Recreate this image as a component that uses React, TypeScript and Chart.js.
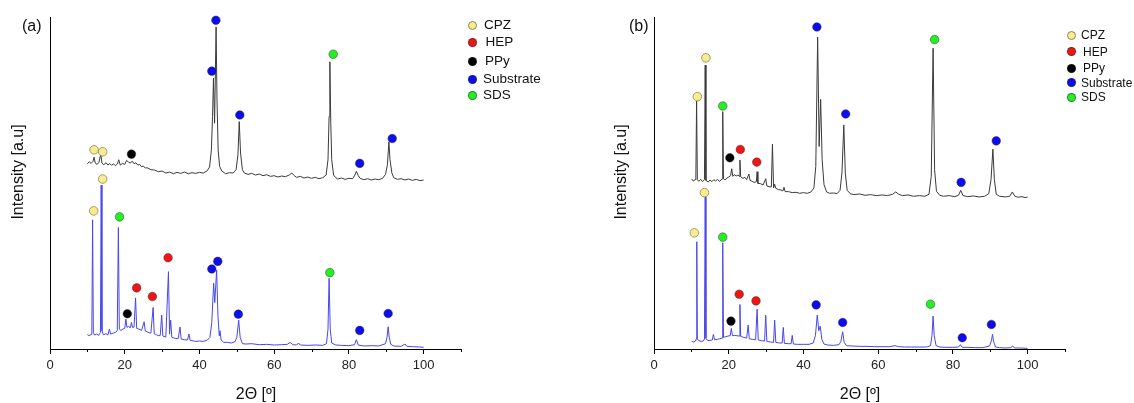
import React, { useEffect, useRef } from 'react';
import { Chart, registerables } from 'chart.js';

Chart.register(...registerables);

type P = [number, number];

const FONT = "'Liberation Sans', Arial, Helvetica, sans-serif";

// axis ticks
const xTicks = [0, 20, 40, 60, 80, 100];
const xMinorTicks = [10, 30, 50, 70, 90, 110];

// marker categories
const markerNames = ['CPZ', 'HEP', 'PPy', 'Substrate', 'SDS'];
const markerColors = ['#f8ec8e', '#f01414', '#000000', '#0c0cf0', '#22f022'];

// ---------- panel (a) ----------
const aTop: P[] = [
  [10, 55.8], [10.5, 56.4], [11, 55.9], [11.5, 56.5], [11.8, 57.8], [12.1, 56.0], [12.6, 55.6], [13.1, 56.2],
  [13.6, 58.8], [13.9, 56.0], [14.4, 55.5], [15, 56.1], [15.5, 55.4], [16, 55.9], [16.5, 55.3], [17, 55.8],
  [17.5, 55.2], [18, 55.7], [18.4, 57.0], [18.8, 55.4], [19.4, 55.9], [20, 55.6], [20.5, 56.8], [21, 56.3],
  [21.5, 56.0], [22, 56.6], [22.5, 55.8], [23, 56.1], [23.5, 55.4], [24, 55.6], [24.5, 54.9], [25, 55.1],
  [25.5, 54.5], [26, 54.6], [27, 54.0], [28, 53.9], [29, 53.4], [30, 53.6], [31, 53.0], [32, 53.3],
  [33, 52.8], [34, 53.2], [35, 52.9], [36, 53.3], [37, 52.8], [38, 53.1], [39, 52.9], [40, 53.2],
  [41, 53.0], [42, 53.6], [42.7, 54.8], [43.2, 60], [43.5, 70], [43.75, 81.6], [44.05, 68], [44.45, 97.0],
  [44.7, 75], [45.0, 60], [45.4, 55], [46, 53.6], [47, 52.8], [48, 53.1], [49, 53.0], [49.8, 54],
  [50.3, 58.5], [50.65, 68.5], [51.0, 59], [51.5, 54], [52, 53], [53, 52.6], [54, 52.9], [55, 52.4],
  [56, 52.7], [57, 52.2], [58, 52.5], [59, 52.0], [60, 52.2], [61, 51.8], [62, 52.1], [63, 51.9],
  [64, 52.4], [64.7, 53.0], [65.4, 52.2], [66, 51.7], [67, 52.0], [68, 51.5], [69, 51.8], [70, 51.4],
  [71, 51.7], [72, 51.3], [73, 51.6], [73.9, 52.4], [74.4, 57], [74.7, 70], [74.9, 86.5], [75.15, 68],
  [75.4, 57], [75.9, 52.4], [76.5, 51.6], [77, 51.2], [78, 51.5], [79, 51.1], [80, 51.4], [81, 51.3],
  [81.6, 52.4], [82, 53.5], [82.5, 52.2], [83, 51.4], [84, 51.0], [85, 51.3], [86, 50.9], [87, 51.2],
  [88, 51.0], [89, 51.4], [89.8, 52.6], [90.3, 55.5], [90.7, 62.4], [91.0, 57], [91.5, 53], [92, 51.6],
  [93, 51.1], [94, 51.3], [95, 50.9], [96, 51.2], [97, 50.8], [98, 51.1], [99, 50.7], [100, 50.9],
];

const aBottom: P[] = [
  [10, 4.3], [10.5, 4.0], [11, 4.4], [11.2, 5], [11.4, 38.9], [11.6, 5], [11.9, 4.2], [12.5, 4.5],
  [13, 4.1], [13.5, 5], [13.7, 49.4], [13.9, 5.5], [14.3, 4.3], [15, 4.6], [15.5, 4.2], [15.9, 6.0],
  [16.2, 4.5], [17, 4.8], [17.5, 5.0], [18.0, 5.5], [18.3, 36.6], [18.55, 6], [19, 5.6], [19.5, 6.0],
  [20, 6.2], [20.3, 9.0], [20.6, 6.5], [21, 6.8], [21.5, 6.4], [21.8, 8], [22.1, 6.5], [22.5, 6.6],
  [22.9, 15.4], [23.2, 6.2], [23.8, 6.0], [24.5, 5.6], [25.2, 8.2], [25.5, 5.4], [26, 5.2], [26.5, 4.9],
  [27, 4.8], [27.6, 12.5], [27.9, 4.6], [28.5, 4.3], [29, 4.0], [29.5, 4.1], [29.9, 10.2], [30.2, 3.9],
  [31, 3.6], [31.7, 23.3], [32.0, 4.5], [32.3, 8.7], [32.6, 3.5], [33.5, 3.2], [34.3, 3.1], [34.8, 6.6],
  [35.1, 3.0], [36, 2.8], [36.8, 2.7], [37.2, 4.5], [37.5, 2.6], [38, 2.5], [39, 2.3], [40, 2.4],
  [41, 2.3], [42, 2.6], [42.8, 3.5], [43.3, 8], [43.8, 19.8], [44.1, 14], [44.6, 23.8], [44.95, 10],
  [45.3, 4], [45.5, 5.5], [45.8, 2.7], [46.5, 2.0], [47.5, 2.0], [48.5, 1.8], [49.5, 2.2], [50.0, 3.5],
  [50.5, 8.7], [50.9, 3.5], [51.5, 1.6], [52.5, 1.5], [54, 1.6], [56, 1.3], [58, 1.4], [60, 1.2],
  [62, 1.3], [63.5, 1.4], [64.3, 2.0], [65, 1.3], [66, 1.2], [66.5, 1.8], [67, 1.2], [69, 1.1],
  [71, 1.2], [73, 1.1], [74, 1.6], [74.4, 6], [74.7, 21.3], [75.0, 6], [75.4, 1.8], [76.5, 1.2],
  [78, 1.1], [80, 1.0], [81.5, 1.3], [82, 2.8], [82.5, 1.2], [84, 0.9], [86, 1.0], [88, 0.9],
  [89.8, 1.6], [90.2, 3.5], [90.5, 6.7], [90.8, 3.5], [91.2, 1.4], [92, 0.9], [94, 0.8], [95, 1.5],
  [95.5, 0.8], [97, 0.7], [99, 0.6], [100, 0.5],
];

const aCPZ: P[] = [[11.8, 60], [14.1, 59.4], [11.7, 41.6], [14.1, 51.2]];
const aHEP: P[] = [[23.2, 18.4], [27.4, 15.8], [31.6, 27.5]];
const aPPy: P[] = [[21.8, 58.7], [20.7, 10.6]];
const aSubstrate: P[] = [
  [43.3, 83.7], [44.4, 99], [50.8, 70.5], [82.9, 55.9], [91.6, 63.4],
  [43.3, 24.1], [44.9, 26.4], [50.4, 10.5], [82.9, 5.6], [90.5, 10.7],
];
const aSDS: P[] = [[75.8, 88.8], [18.6, 39.8], [74.9, 23]];

// ---------- panel (b) ----------
const bTop: P[] = [
  [10.1, 51.2], [10.5, 50.6], [11, 51.0], [11.2, 51.5], [11.4, 75], [11.6, 51.0], [12, 50.5], [12.5, 51.1],
  [13, 50.4], [13.5, 51.0], [13.7, 85.5], [13.9, 50.8], [14.5, 50.3], [15, 50.9], [15.5, 50.4], [16, 51.0],
  [16.5, 50.6], [17, 51.1], [17.5, 50.5], [18.2, 51.2], [18.4, 71.5], [18.6, 51.3], [19, 50.9], [19.5, 51.5],
  [20, 51.8], [20.5, 52.2], [20.8, 54.3], [21.1, 52.0], [21.5, 52.5], [22, 52.1], [22.5, 52.4], [22.8, 52.0],
  [23.0, 56.9], [23.2, 51.9], [23.8, 51.4], [24.3, 51.7], [24.8, 51.0], [25.4, 52.7], [25.7, 50.8], [26.3, 50.5],
  [26.8, 50.2], [27.4, 50.4], [27.6, 53.4], [27.8, 49.9], [28.5, 49.8], [29.2, 49.4], [29.9, 51.3], [30.2, 49.1],
  [30.8, 48.9], [31.4, 48.8], [31.7, 61.7], [32.0, 48.5], [32.3, 49.6], [32.6, 48.4], [33.3, 48.0], [34, 47.9],
  [34.5, 47.6], [34.8, 48.7], [35.1, 47.4], [36, 47.4], [37, 47.1], [38, 47.2], [39, 46.9], [40, 47.1],
  [41, 46.9], [42, 47.3], [42.8, 48.5], [43.3, 55], [43.8, 93.9], [44.2, 61], [44.6, 75.2], [45.0, 57],
  [45.5, 49.5], [46.2, 47.3], [47, 46.9], [48, 47.0], [49, 46.8], [49.8, 47.8], [50.3, 53], [50.8, 67.5],
  [51.2, 53], [51.7, 47.8], [52.5, 46.8], [53.5, 46.5], [55, 46.7], [56.5, 46.3], [58, 46.5], [59.5, 46.2],
  [61, 46.4], [62.5, 46.2], [63.8, 46.6], [64.7, 47.3], [65.5, 46.6], [66.5, 46.2], [68, 46.4], [69.5, 46.0],
  [71, 46.2], [72.5, 46.0], [73.6, 46.6], [74.2, 52], [74.7, 90.6], [75.1, 54], [75.6, 47.5], [76.5, 46.3],
  [77.5, 46.0], [79, 46.2], [80.5, 45.9], [81.5, 46.3], [82.1, 47.8], [82.7, 46.2], [84, 45.9], [85.5, 46.1],
  [87, 45.8], [88.5, 46.0], [89.6, 46.8], [90.2, 51], [90.7, 60.2], [91.1, 51], [91.6, 46.6], [92.5, 46.0],
  [94, 45.8], [95.2, 46.0], [95.9, 47.3], [96.6, 46.0], [97.5, 45.7], [98.5, 45.9], [99.3, 45.6], [100, 45.8],
];

const bBottom: P[] = [
  [10.1, 2.3], [10.6, 2.1], [11.1, 2.4], [11.3, 3], [11.45, 32.3], [11.6, 3], [12, 2.5], [12.6, 2.3],
  [13.2, 2.4], [13.5, 3], [13.7, 45.9], [13.9, 3.2], [14.4, 2.5], [15, 2.6], [15.6, 2.7], [15.9, 4.4],
  [16.2, 2.8], [17, 2.9], [17.6, 3.1], [18.2, 3.3], [18.4, 32.0], [18.6, 3.5], [19.2, 3.7], [19.8, 3.9],
  [20.4, 4.0], [20.7, 6.2], [21, 4.0], [21.6, 4.1], [22.2, 4.0], [22.8, 3.9], [23.0, 13.4], [23.2, 3.8],
  [24, 3.5], [24.8, 3.3], [25.2, 7.2], [25.5, 3.1], [26.3, 2.9], [27.2, 2.8], [27.6, 12.0], [27.9, 2.7],
  [28.8, 2.5], [29.6, 2.4], [29.9, 10.2], [30.2, 2.3], [31.2, 2.1], [32.0, 2.0], [32.3, 8.7], [32.6, 2.0],
  [33.6, 1.8], [34.3, 1.8], [34.6, 6.5], [34.9, 1.7], [36, 1.6], [36.7, 1.6], [37.0, 4.1], [37.3, 1.5],
  [38.5, 1.4], [40, 1.4], [41.5, 1.4], [42.6, 1.8], [43.2, 4], [43.7, 10.2], [44.1, 5.5], [44.5, 6.9],
  [44.9, 3], [45.5, 1.5], [46.5, 1.2], [48, 1.1], [49.5, 1.3], [50.0, 2.2], [50.5, 5.2], [50.9, 2.0],
  [51.5, 1.0], [53, 0.9], [55, 0.8], [57, 0.8], [59, 0.7], [61, 0.7], [63, 0.7], [64.5, 1.0],
  [65.5, 0.7], [67, 0.6], [69, 0.6], [71, 0.6], [73, 0.6], [74.0, 1.0], [74.4, 4], [74.7, 9.9],
  [75.0, 4], [75.5, 1.0], [76.5, 0.6], [78, 0.5], [80, 0.5], [81.5, 0.6], [82, 1.3], [82.5, 0.5],
  [84, 0.5], [86, 0.4], [88, 0.4], [89.8, 0.9], [90.3, 2.5], [90.6, 4.4], [90.9, 2.2], [91.4, 0.6],
  [92.5, 0.4], [94, 0.3], [95.5, 0.4], [96, 0.9], [96.5, 0.3], [98, 0.3], [100, 0.2],
];

const bCPZ: P[] = [[11.6, 76], [13.9, 87.7], [10.8, 35], [13.5, 47.1]];
const bHEP: P[] = [[23.1, 60.1], [27.5, 56.3], [22.8, 16.5], [27.3, 14.5]];
const bPPy: P[] = [[20.3, 57.6], [20.6, 8.4]];
const bSubstrate: P[] = [
  [43.6, 97], [51.3, 70.8], [82.2, 50.2], [91.6, 62.7],
  [43.4, 13.3], [50.5, 8], [82.5, 3.4], [90.3, 7.4],
];
const bSDS: P[] = [[18.4, 73.2], [75.1, 93.2], [18.4, 33.7], [74, 13.5]];

const toXY = (arr: P[]) => arr.map(([x, y]) => ({ x, y }));

const minorTickPlugin = {
  id: 'minorTicks',
  afterDraw(chart: any) {
    const sx = chart.scales.x;
    const ctx = chart.ctx;
    ctx.save();
    ctx.strokeStyle = '#000';
    ctx.lineWidth = 1;
    for (const v of xMinorTicks) {
      const px = Math.round(sx.getPixelForValue(v)) + 0.5;
      ctx.beginPath();
      ctx.moveTo(px, sx.top);
      ctx.lineTo(px, sx.top + 3);
      ctx.stroke();
    }
    ctx.restore();
  },
};

interface PanelProps {
  top: P[];
  bottom: P[];
  markers: P[][];
  padLeft: number;
  padRight: number;
}

function Panel({ top, bottom, markers, padLeft, padRight }: PanelProps) {
  const ref = useRef<HTMLCanvasElement | null>(null);
  useEffect(() => {
    if (!ref.current) return;
    const markerSets = markers.map((m, i) => ({
      type: 'scatter' as const,
      label: markerNames[i],
      data: toXY(m),
      showLine: false,
      pointRadius: 4.3,
      pointBackgroundColor: markerColors[i],
      pointBorderColor: i === 0 ? '#8c8660' : 'rgba(40,40,40,0.55)',
      pointBorderWidth: 0.8,
      clip: false as any,
      order: 0,
    }));
    const chart = new Chart(ref.current, {
      type: 'line',
      data: {
        datasets: [
          ...markerSets,
          {
            label: 'top',
            data: toXY(top),
            borderColor: '#3a3a3a',
            borderWidth: 1,
            pointRadius: 0,
            tension: 0,
            order: 2,
          },
          {
            label: 'bottom',
            data: toXY(bottom),
            borderColor: '#4646ee',
            borderWidth: 1,
            pointRadius: 0,
            tension: 0,
            order: 2,
          },
        ] as any,
      },
      options: {
        responsive: false,
        animation: false,
        devicePixelRatio: 1,
        layout: { padding: { left: padLeft, right: padRight, top: 17, bottom: 0 } },
        plugins: { legend: { display: false }, tooltip: { enabled: false }, title: { display: false } },
        scales: {
          x: {
            type: 'linear',
            min: 0,
            max: 110,
            afterBuildTicks: (s: any) => {
              s.ticks = xTicks.map((v) => ({ value: v }));
            },
            afterFit: (s: any) => {
              s.height = 54;
            },
            ticks: {
              color: '#222',
              font: { family: FONT, size: 13 },
              padding: 4,
              maxRotation: 0,
              autoSkip: false,
            },
            grid: { drawOnChartArea: false, drawTicks: true, tickLength: 5, color: '#000', tickColor: '#000' },
            border: { display: true, color: '#000', width: 1 },
          },
          y: {
            type: 'linear',
            min: 0,
            max: 100,
            afterFit: (s: any) => {
              s.width = 0;
            },
            ticks: { display: false },
            grid: { drawOnChartArea: false, drawTicks: false },
            border: { display: true, color: '#000', width: 1 },
          },
        },
      },
      plugins: [minorTickPlugin],
    });
    return () => chart.destroy();
  }, []);
  return <canvas ref={ref} width={567} height={403} style={{ width: 567, height: 403, display: 'block' }} />;
}

function Legend({ left, ys, textLefts, size }: { left: number; ys: number[]; textLefts: number[]; size: number }) {
  return (
    <>
      {markerNames.map((name, i) => (
        <React.Fragment key={name}>
          <div
            style={{
              position: 'absolute',
              left: left - 4.5,
              top: ys[i] - 4.5,
              width: 9,
              height: 9,
              borderRadius: '50%',
              boxSizing: 'border-box',
              background: markerColors[i],
              border: i === 0 ? '0.8px solid #8c8660' : '0.8px solid rgba(40,40,40,0.55)',
            }}
          />
          <div
            style={{
              position: 'absolute',
              left: textLefts[i],
              top: ys[i] - size * 0.6,
              fontSize: size,
              lineHeight: `${size * 1.2}px`,
              color: '#111',
              whiteSpace: 'nowrap',
            }}
          >
            {name}
          </div>
        </React.Fragment>
      ))}
    </>
  );
}

const absText = (extra: React.CSSProperties): React.CSSProperties => ({
  position: 'absolute',
  whiteSpace: 'nowrap',
  color: '#111',
  ...extra,
});

export default function App() {
  Chart.defaults.font.family = FONT;
  return (
    <div
      style={{
        position: 'fixed',
        left: 0,
        top: 0,
        width: 1134,
        height: 403,
        background: '#fff',
        fontFamily: FONT,
        overflow: 'hidden',
      }}
    >
      <div style={{ position: 'absolute', left: 0, top: 0 }}>
        <Panel top={aTop} bottom={aBottom} markers={[aCPZ, aHEP, aPPy, aSubstrate, aSDS]} padLeft={50} padRight={106} />
      </div>
      <div style={{ position: 'absolute', left: 567, top: 0 }}>
        <Panel top={bTop} bottom={bBottom} markers={[bCPZ, bHEP, bPPy, bSubstrate, bSDS]} padLeft={87} padRight={69} />
      </div>

      {/* panel letters */}
      <div style={absText({ left: 22, top: 16, fontSize: 16, lineHeight: '19px' })}>(a)</div>
      <div style={absText({ left: 629, top: 16, fontSize: 16, lineHeight: '19px' })}>(b)</div>

      {/* y titles */}
      <div
        style={absText({
          left: 17.5,
          top: 172,
          fontSize: 16,
          lineHeight: '18px',
          transform: 'translate(-50%, -50%) rotate(-90deg)',
        })}
      >
        Intensity [a.u]
      </div>
      <div
        style={absText({
          left: 621,
          top: 172,
          fontSize: 16,
          lineHeight: '18px',
          transform: 'translate(-50%, -50%) rotate(-90deg)',
        })}
      >
        Intensity [a.u]
      </div>

      {/* x titles */}
      <div style={absText({ left: 256, top: 394, fontSize: 16, lineHeight: '18px', transform: 'translate(-50%, -50%)' })}>
        2Θ [º]
      </div>
      <div style={absText({ left: 860, top: 394, fontSize: 16, lineHeight: '18px', transform: 'translate(-50%, -50%)' })}>
        2Θ [º]
      </div>

      {/* legends */}
      <Legend left={472.5} ys={[25, 42.3, 61, 79, 95]} textLefts={[484, 485.5, 485, 483, 483]} size={13.5} />
      <Legend left={1071} ys={[35, 51.7, 68.3, 82.7, 97]} textLefts={[1081, 1083, 1083, 1081, 1081]} size={12} />
    </div>
  );
}
